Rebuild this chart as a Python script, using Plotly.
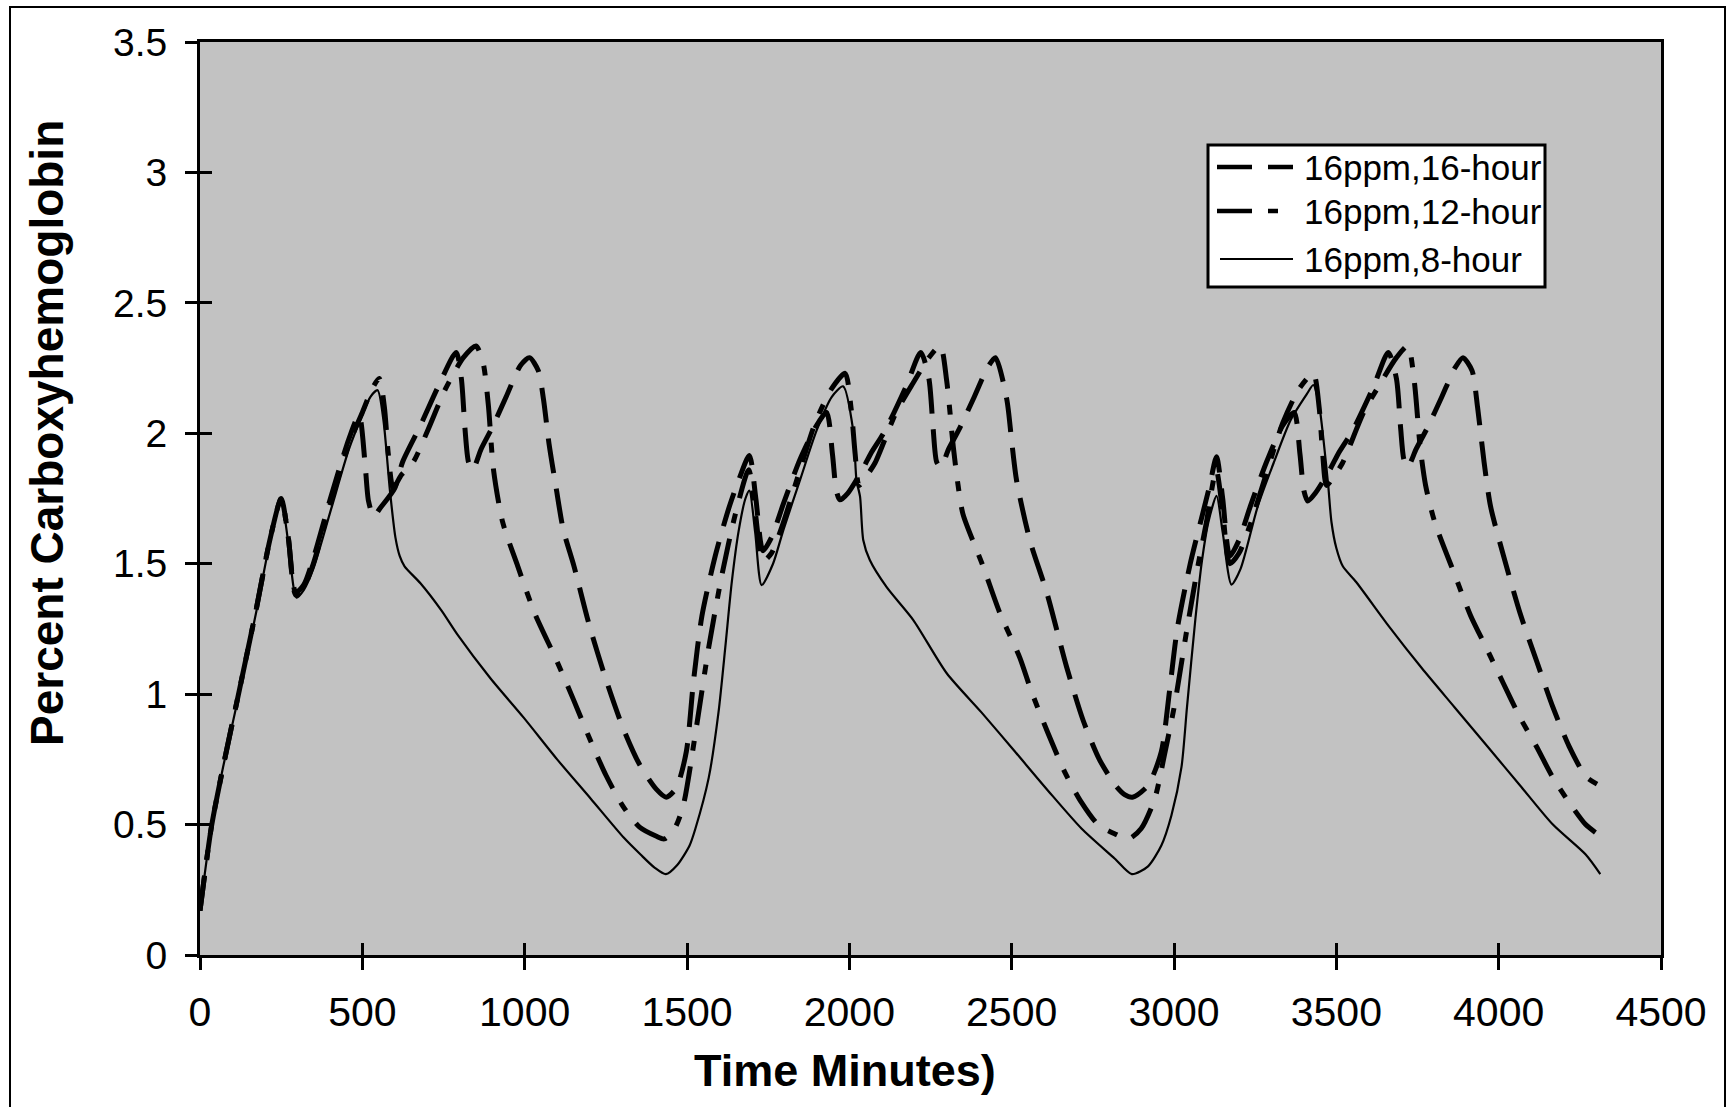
import plotly.graph_objects as go

# Time (minutes) and percent COHb for each exposure schedule, three daily cycles
t_16h = [0, 35, 71, 122, 174, 215, 250, 272, 295, 320, 349, 404, 459, 490, 508, 519, 535, 553,
         600, 624, 679, 734, 789, 805, 816, 827, 840, 866, 899, 943, 987, 1015, 1042, 1058,
         1075, 1097, 1119, 1152, 1200, 1252, 1303, 1354, 1406, 1436, 1467, 1498,
         1520, 1546, 1587, 1628, 1659, 1692, 1712, 1734, 1760, 1797, 1848, 1899, 1930, 1948,
         1960, 1971, 1995, 2040, 2065, 2110, 2175, 2220, 2245, 2258, 2269, 2282, 2306, 2340,
         2385, 2425, 2450, 2485, 2500, 2515, 2556, 2608, 2669, 2720, 2770, 2820, 2848, 2872,
         2920, 2961, 2985, 3010, 3050, 3090, 3110, 3131, 3150, 3172, 3200, 3235, 3285, 3335,
         3370, 3388, 3400, 3412, 3435, 3480, 3505, 3550, 3615, 3660, 3685, 3698, 3708, 3720,
         3746, 3780, 3825, 3865, 3890, 3918, 3935, 3955, 3975, 4015, 4066, 4116, 4167, 4217,
         4268, 4303]
co_16h = [0.17, 0.49, 0.72, 1.02, 1.33, 1.59, 1.75, 1.60, 1.39, 1.42, 1.52, 1.76, 1.98, 2.07, 1.89, 1.74, 1.68, 1.71,
          1.79, 1.89, 2.03, 2.18, 2.31, 2.21, 2.02, 1.89, 1.86, 1.94, 2.02, 2.14, 2.26, 2.29, 2.24, 2.13,
          1.96, 1.79, 1.63, 1.49, 1.26, 1.05, 0.87, 0.73, 0.635, 0.605, 0.64, 0.78,
          1.05, 1.30, 1.53, 1.71, 1.82, 1.915, 1.75, 1.55, 1.60, 1.73, 1.90, 2.03, 2.08, 1.92,
          1.78, 1.745, 1.77, 1.86, 1.92, 2.01, 2.18, 2.31, 2.21, 2.02, 1.89, 1.87, 1.94, 2.02,
          2.14, 2.25, 2.29, 2.13, 1.97, 1.82, 1.59, 1.39, 1.105, 0.90, 0.75, 0.65, 0.615, 0.605,
          0.65, 0.78, 1.00, 1.25, 1.50, 1.70, 1.80, 1.91, 1.75, 1.53, 1.59, 1.72, 1.89, 2.03,
          2.08, 1.92, 1.78, 1.74, 1.77, 1.86, 1.92, 2.01, 2.18, 2.31, 2.21, 2.02, 1.90, 1.87,
          1.94, 2.02, 2.14, 2.25, 2.29, 2.24, 2.10, 1.89, 1.72, 1.53, 1.31, 1.13, 0.95, 0.80,
          0.685, 0.655]

t_12h = [0, 35, 71, 122, 174, 215, 250, 272, 295, 320, 349, 404, 459, 500, 530, 552, 568, 580,
         595, 620, 657, 701, 756, 811, 850, 872, 888, 904, 932, 976, 1031, 1098, 1150, 1200,
         1250, 1303, 1354, 1406, 1430, 1460, 1488,
         1526, 1567, 1608, 1649, 1690, 1710, 1734, 1760, 1792, 1843, 1895, 1945, 1987, 2005,
         2018, 2030, 2055, 2079, 2144, 2195, 2245, 2280, 2300, 2320, 2335, 2350, 2412, 2464,
         2525, 2561, 2612, 2664, 2715, 2766, 2817, 2860, 2899, 2941, 2971, 3002,
         3040, 3075, 3100, 3130, 3150, 3172, 3200, 3232, 3283, 3335, 3385, 3429, 3447, 3458,
         3470, 3495, 3519, 3584, 3635, 3685, 3720, 3740, 3758, 3775, 3803, 3864, 3914, 3965,
         4015, 4066, 4116, 4167, 4217, 4268, 4298]
co_12h = [0.17, 0.49, 0.72, 1.02, 1.33, 1.59, 1.75, 1.60, 1.38, 1.41, 1.50, 1.74, 1.96, 2.08, 2.17, 2.21, 2.10, 1.92,
          1.79, 1.84, 1.89, 2.01, 2.17, 2.29, 2.335, 2.27, 2.11, 1.86, 1.66, 1.50, 1.31, 1.13, 0.98, 0.83,
          0.69, 0.57, 0.49, 0.455, 0.445, 0.48, 0.57,
          0.85, 1.18, 1.46, 1.69, 1.86, 1.70, 1.51, 1.54, 1.64, 1.84, 2.04, 2.17, 2.23, 2.10,
          1.92, 1.80, 1.84, 1.886, 2.08, 2.19, 2.29, 2.335, 2.20, 1.95, 1.80, 1.69, 1.49, 1.31,
          1.14, 1.01, 0.85, 0.70, 0.585, 0.50, 0.465, 0.445, 0.485, 0.60, 0.77, 0.96,
          1.25, 1.50, 1.66, 1.86, 1.70, 1.50, 1.54, 1.64, 1.84, 2.04, 2.17, 2.23, 2.10, 1.92,
          1.80, 1.84, 1.886, 2.08, 2.19, 2.29, 2.335, 2.20, 1.95, 1.80, 1.66, 1.46, 1.30, 1.17,
          1.04, 0.91, 0.80, 0.68, 0.585, 0.50, 0.47]

t_8h = [0, 35, 71, 122, 174, 215, 250, 272, 297, 320, 349, 404, 459, 500, 525, 547, 565, 585,
        602, 615, 630, 679, 744, 792, 895, 997, 1100, 1203, 1305, 1357, 1400, 1435, 1470, 1508,
        1526, 1567, 1597, 1618, 1638, 1659, 1680, 1692, 1710, 1730, 1765, 1797, 1848, 1899,
        1946, 1981, 2012, 2022, 2033, 2043, 2063, 2115, 2197, 2300, 2407, 2510, 2612, 2715,
        2817, 2870, 2920, 2961, 2992, 3023,
        3040, 3066, 3086, 3106, 3131, 3150, 3177, 3205, 3258, 3308, 3359, 3409, 3429, 3448,
        3460, 3475, 3485, 3500, 3520, 3561, 3662, 3763, 3864, 3965, 4066, 4167, 4268, 4313]
co_8h = [0.17, 0.49, 0.72, 1.01, 1.32, 1.58, 1.74, 1.58, 1.37, 1.40, 1.48, 1.71, 1.94, 2.07, 2.14, 2.165, 2.05, 1.78,
         1.60, 1.53, 1.49, 1.425, 1.32, 1.23, 1.06, 0.91, 0.75, 0.60, 0.45, 0.385, 0.335, 0.31, 0.345, 0.42,
         0.485, 0.68, 0.93, 1.18, 1.43, 1.625, 1.75, 1.78, 1.62, 1.418, 1.50, 1.63, 1.82, 2.01,
         2.14, 2.18, 2.01, 1.82, 1.757, 1.59, 1.514, 1.41, 1.284, 1.08, 0.93, 0.78, 0.63, 0.485,
         0.37, 0.31, 0.34, 0.42, 0.535, 0.72,
         0.95, 1.29, 1.51, 1.66, 1.76, 1.62, 1.42, 1.48, 1.72, 1.89, 2.05, 2.15, 2.185, 2.10,
         1.98, 1.80, 1.66, 1.56, 1.49, 1.43, 1.26, 1.10, 0.95, 0.80, 0.65, 0.50, 0.385, 0.31]

x_ticks = [0, 500, 1000, 1500, 2000, 2500, 3000, 3500, 4000, 4500]
y_ticks = [0, 0.5, 1, 1.5, 2, 2.5, 3, 3.5]
y_tick_text = ["0", "0.5", "1", "1.5", "2", "2.5", "3", "3.5"]

series_names = ["16ppm,16-hour", "16ppm,12-hour", "16ppm,8-hour"]
DASH_16 = "35px,16px"
DASH_12 = "35px,16px,10px,16px"

FONT = "Liberation Sans, Arial, Helvetica, sans-serif"

fig = go.Figure()
fig.add_trace(go.Scatter(x=t_16h, y=co_16h, mode="lines", name=series_names[0],
                         line=dict(color="black", width=5, dash=DASH_16, shape="spline", smoothing=0.7)))
fig.add_trace(go.Scatter(x=t_12h, y=co_12h, mode="lines", name=series_names[1],
                         line=dict(color="black", width=5, dash=DASH_12, shape="spline", smoothing=0.7)))
fig.add_trace(go.Scatter(x=t_8h, y=co_8h, mode="lines", name=series_names[2],
                         line=dict(color="black", width=2.2, shape="spline", smoothing=0.7)))
# empty trace carrying the overlay axes that draw the inner half of each tick
fig.add_trace(go.Scatter(x=[None], y=[None], xaxis="x2", yaxis="y2", showlegend=False,
                         hoverinfo="skip"))

W, H = 1731, 1107
L, R, T, B = 200, 70, 42, 152
pw, ph = W - L - R, H - T - B


def px_x(p):
    return (p - L) / pw


def px_y(p):
    return (H - B - p) / ph


axis_common = dict(showgrid=False, zeroline=False, color="black")
fig.update_layout(
    width=W, height=H,
    margin=dict(l=L, r=R, t=T, b=B),
    paper_bgcolor="white",
    plot_bgcolor="#c2c2c2",
    showlegend=False,
    font=dict(family=FONT, color="black"),
    xaxis=dict(range=[0, 4500], tickvals=x_ticks, ticks="outside", ticklen=12, tickwidth=3,
               tickcolor="black", showline=True, linewidth=3, linecolor="black", mirror=True,
               tickfont=dict(size=41, family=FONT), ticklabelstandoff=7, **axis_common),
    yaxis=dict(range=[0, 3.5], tickvals=y_ticks, ticktext=y_tick_text, ticks="outside",
               ticklen=12, tickwidth=3, tickcolor="black", showline=True, linewidth=3,
               linecolor="black", mirror=True, tickfont=dict(size=39, family=FONT),
               ticklabelstandoff=10, **axis_common),
    xaxis2=dict(range=[0, 4500], tickvals=x_ticks, ticks="inside", ticklen=12, tickwidth=3,
                tickcolor="black", showticklabels=False, showline=False, overlaying="x",
                side="bottom", anchor="y2", **axis_common),
    yaxis2=dict(range=[0, 3.5], tickvals=y_ticks, ticks="inside", ticklen=12, tickwidth=3,
                tickcolor="black", showticklabels=False, showline=False, overlaying="y",
                side="left", anchor="x2", **axis_common),
)

# axis titles
fig.add_annotation(text="Percent Carboxyhemoglobin", textangle=-90, x=px_x(47), y=px_y(433),
                   xref="paper", yref="paper", showarrow=False, xanchor="center", yanchor="middle",
                   font=dict(size=46, family=FONT, weight="bold"))
fig.add_annotation(text="Time Minutes)", x=px_x(845), y=px_y(1070),
                   xref="paper", yref="paper", showarrow=False, xanchor="center", yanchor="middle",
                   font=dict(size=45, family=FONT, weight="bold"))

# legend box with line samples
fig.add_shape(type="rect", xref="paper", yref="paper", x0=px_x(1208), x1=px_x(1545),
              y0=px_y(287), y1=px_y(145), fillcolor="white", line=dict(color="black", width=3))
legend_rows = [(167, DASH_16, 4.5, 1217), (211, DASH_12, 4.5, 1217), (259, "solid", 2.2, 1220)]
for name, (py, dash, w, x_start) in zip(series_names, legend_rows):
    fig.add_shape(type="line", xref="paper", yref="paper", x0=px_x(x_start), x1=px_x(1293),
                  y0=px_y(py), y1=px_y(py), line=dict(color="black", width=w, dash=dash))
    fig.add_annotation(text=name, x=px_x(1302), y=px_y(py), xref="paper", yref="paper",
                       showarrow=False, xanchor="left", yanchor="middle",
                       font=dict(size=35, family=FONT))

# outer frame around the whole chart
fig.add_shape(type="rect", xref="paper", yref="paper", x0=px_x(10), x1=px_x(1725),
              y0=px_y(1130), y1=px_y(7), line=dict(color="black", width=2), fillcolor="rgba(0,0,0,0)")

fig.write_html("out.html")
